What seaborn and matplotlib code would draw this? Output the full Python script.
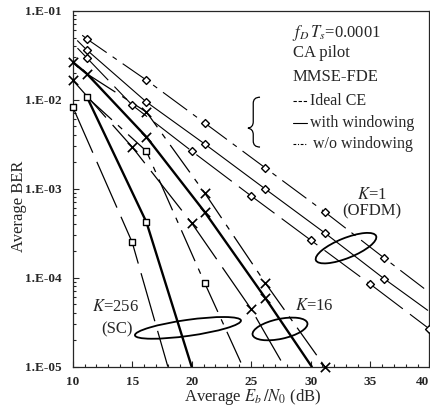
import matplotlib
matplotlib.use('Agg')
import matplotlib.pyplot as plt
import matplotlib.ticker as mticker
from matplotlib.patches import Ellipse, PathPatch
from matplotlib.path import Path
import seaborn as sns

# BER curves (x in dB, y = BER)
# K=1 (OFDM), diamonds
k1_wo_x = [10.8, 11.2, 16.2, 21.1, 26.2, 31.2, 36.2, 39.7]
k1_wo_ber = [0.053, 0.0481, 0.0166, 0.00547, 0.00171, 0.000547, 0.000166, 7.3e-5]
k1_win_x = [10.4, 11.2, 16.2, 21.1, 26.2, 31.2, 36.2, 39.85]
k1_win_ber = [0.046, 0.0361, 0.00942, 0.00318, 0.00099, 0.000318, 9.7e-5, 4.3e-5]
k1_ideal_x = [10.4, 11.2, 15, 20, 25, 30, 35, 40]
k1_ideal_ber = [0.038, 0.0294, 0.0087, 0.00265, 0.00083, 0.000265, 8.5e-5, 2.65e-5]
k1_mark_x = [11.2, 16.2, 21.1, 26.2, 31.2, 36.2]
k1_wo_mark = [0.0481, 0.0166, 0.00547, 0.00171, 0.000547, 0.000166]
k1_win_mark = [0.0361, 0.00942, 0.00318, 0.00099, 0.000318, 9.7e-5]
k1_ideal_mark_x = [11.2, 15, 20, 25, 30, 35, 40]
k1_ideal_mark = [0.0294, 0.0087, 0.00265, 0.00083, 0.000265, 8.5e-5, 2.65e-5]

# K=16, crosses
k16_wo_x = [11.2, 16.2, 21.1, 26.2, 31.2]
k16_wo_ber = [0.0195, 0.00727, 0.000895, 8.7e-5, 1.0e-5]
k16_win_x = [10, 11.2, 16.2, 21.1, 26.2, 30.1]
k16_win_ber = [0.0265, 0.0195, 0.00381, 0.000547, 5.9e-5, 1.0e-5]
k16_ideal_x = [10, 15, 20, 25, 27.8]
k16_ideal_ber = [0.0166, 0.00294, 0.000412, 4.45e-5, 1.0e-5]
k16_mark_x = [10, 11.2, 16.2, 16.2, 21.1, 21.1, 26.2, 26.2, 31.2, 15, 20, 25, 10]
k16_mark_ber = [0.0265, 0.0195, 0.00727, 0.00381, 0.000895, 0.000547, 8.7e-5, 5.9e-5,
                1.0e-5, 0.00294, 0.000412, 4.45e-5, 0.0166]

# K=256 (SC), squares
k256_wo_x = [11.2, 16.2, 21.1, 24.3]
k256_wo_ber = [0.0107, 0.00264, 8.7e-5, 1.0e-5]
k256_win_x = [11.2, 16.2, 20.0]
k256_win_ber = [0.0107, 0.00042, 1.0e-5]
k256_ideal_x = [10, 15, 18.0]
k256_ideal_ber = [0.0083, 0.00025, 1.0e-5]
k256_mark_x = [10, 11.2, 15, 16.2, 16.2, 21.1]
k256_mark_ber = [0.0083, 0.0107, 0.00025, 0.00264, 0.00042, 8.7e-5]

ytick_vals = [1e-5, 1e-4, 1e-3, 1e-2, 1e-1]
ytick_labels = ['1.E-05', '1.E-04', '1.E-03', '1.E-02', '1.E-01']
xtick_vals = [10, 15, 20, 25, 30, 35, 40]

sns.set_style('ticks')
plt.rcParams['font.family'] = ['Liberation Serif', 'DejaVu Serif']
plt.rcParams['mathtext.fontset'] = 'stix'

fig = plt.figure(figsize=(4.31, 4.12), dpi=100)
ax = fig.add_axes([0.1687, 0.110, 0.8278, 0.864])

dash_ideal = (0, (40, 8))
dash_wo = (0, (27, 6.5, 4.5, 6.5))

curves = [
    (k1_wo_x, k1_wo_ber, dash_wo, 0.8),
    (k1_win_x, k1_win_ber, '-', 0.8),
    (k1_ideal_x, k1_ideal_ber, dash_ideal, 0.8),
    (k16_wo_x, k16_wo_ber, dash_wo, 0.9),
    (k16_win_x, k16_win_ber, '-', 1.7),
    (k16_ideal_x, k16_ideal_ber, dash_ideal, 0.9),
    (k256_wo_x, k256_wo_ber, dash_wo, 0.9),
    (k256_win_x, k256_win_ber, '-', 1.7),
    (k256_ideal_x, k256_ideal_ber, dash_ideal, 0.9),
]
for xs, ys, ls, lw in curves:
    sns.lineplot(x=xs, y=ys, ax=ax, color='black', linestyle=ls, lw=lw,
                 sort=False, estimator=None)

# markers
for xs, ys in [(k1_mark_x, k1_wo_mark), (k1_mark_x, k1_win_mark), (k1_ideal_mark_x, k1_ideal_mark)]:
    sns.scatterplot(x=xs, y=ys, ax=ax, marker='D', s=16, color='white',
                    edgecolor='black', linewidth=1.0, zorder=5, clip_on=False)
sns.scatterplot(x=k16_mark_x, y=k16_mark_ber, ax=ax, marker='x', s=45, color='black',
                linewidth=1.2, zorder=5, clip_on=False)
sns.scatterplot(x=k256_mark_x, y=k256_mark_ber, ax=ax, marker='s', s=18, color='white',
                edgecolor='black', linewidth=1.0, zorder=5, clip_on=False)

ax.set_yscale('log')
ax.set_xlim(10, 40)
ax.set_ylim(1e-5, 1e-1)
ax.set_yticks(ytick_vals)
ax.yaxis.set_major_formatter(mticker.FixedFormatter(ytick_labels))
ax.yaxis.set_minor_locator(mticker.LogLocator(base=10, subs=range(2, 10)))
ax.yaxis.set_minor_formatter(mticker.NullFormatter())
ax.set_xticks(xtick_vals)
ax.xaxis.set_minor_locator(mticker.MultipleLocator(1))
ax.tick_params(which='both', direction='in', width=0.8)
ax.tick_params(which='major', length=4)
ax.tick_params(which='minor', length=2.5)
ax.tick_params(axis='x', pad=7)
ax.tick_params(axis='y', pad=8)
for lab in ax.get_xticklabels() + ax.get_yticklabels():
    lab.set_fontsize(9.5)
    lab.set_fontweight('bold')
# the last x label sits at the figure edge; keep it inside
ax.get_xticklabels()[-1].set_horizontalalignment('right')
for sp in ax.spines.values():
    sp.set_visible(True)
    sp.set_linewidth(0.9)
ax.set_xlabel('')
ax.set_ylabel('')

fig.text(19 / 431, 0.5, 'Average BER', rotation=90, ha='center', va='center', fontsize=12)
fig.text(0.586, 0.036, 'Average $E_b\\,/N_0$ (dB)', ha='center', va='center', fontsize=12)

# legend-like block
tr = ax.transAxes
ax.text(0.615, 0.937, '$f_D\\,T_s$=0.0001', transform=tr, fontsize=12, va='center')
ax.text(0.617, 0.881, 'CA pilot', transform=tr, fontsize=12, va='center')
ax.text(0.615, 0.814, 'MMSE-FDE', transform=tr, fontsize=12, va='center')
rows = [(0.746, (0, (3, 1.6)), 'Ideal CE', 0.665),
        (0.685, '-', 'with windowing', 0.665),
        (0.626, (0, (2.5, 1.5, 1, 1.5)), 'w/o windowing', 0.673)]
for fy, ls, lbl, tx in rows:
    ax.plot([0.617, 0.657], [fy, fy], transform=tr, color='black', lw=0.8, linestyle=ls)
    ax.text(tx, fy, lbl, transform=tr, fontsize=11.5, va='center')

brace = Path([(0.525, 0.757), (0.506, 0.757), (0.506, 0.740), (0.506, 0.688),
              (0.506, 0.672), (0.491, 0.670), (0.506, 0.668), (0.506, 0.652),
              (0.506, 0.634), (0.506, 0.617), (0.525, 0.617)],
             [Path.MOVETO, Path.CURVE3, Path.CURVE3, Path.LINETO,
              Path.CURVE3, Path.CURVE3, Path.CURVE3, Path.CURVE3,
              Path.LINETO, Path.CURVE3, Path.CURVE3])
ax.add_patch(PathPatch(brace, transform=tr, fill=False, lw=0.9, color='black'))

# group annotations
ax.text(0.839, 0.482, '$K$=1', transform=tr, fontsize=12, ha='center', va='center')
ax.text(0.839, 0.435, '(OFDM)', transform=tr, fontsize=12, ha='center', va='center')
ax.text(0.676, 0.170, '$K$=16', transform=tr, fontsize=12, ha='center', va='center')
ax.text(0.119, 0.167, '$K$=256', transform=tr, fontsize=12, ha='center', va='center')
ax.text(0.124, 0.106, '(SC)', transform=tr, fontsize=12, ha='center', va='center')
for c, w, h, a in [((0.766, 0.333), 0.182, 0.056, 22),
                   ((0.581, 0.106), 0.157, 0.056, 12),
                   ((0.323, 0.109), 0.30, 0.045, 8)]:
    ax.add_patch(Ellipse(c, w, h, angle=a, transform=tr, fill=False, lw=1.3, color='black'))

fig.savefig('out.png', dpi=100)
